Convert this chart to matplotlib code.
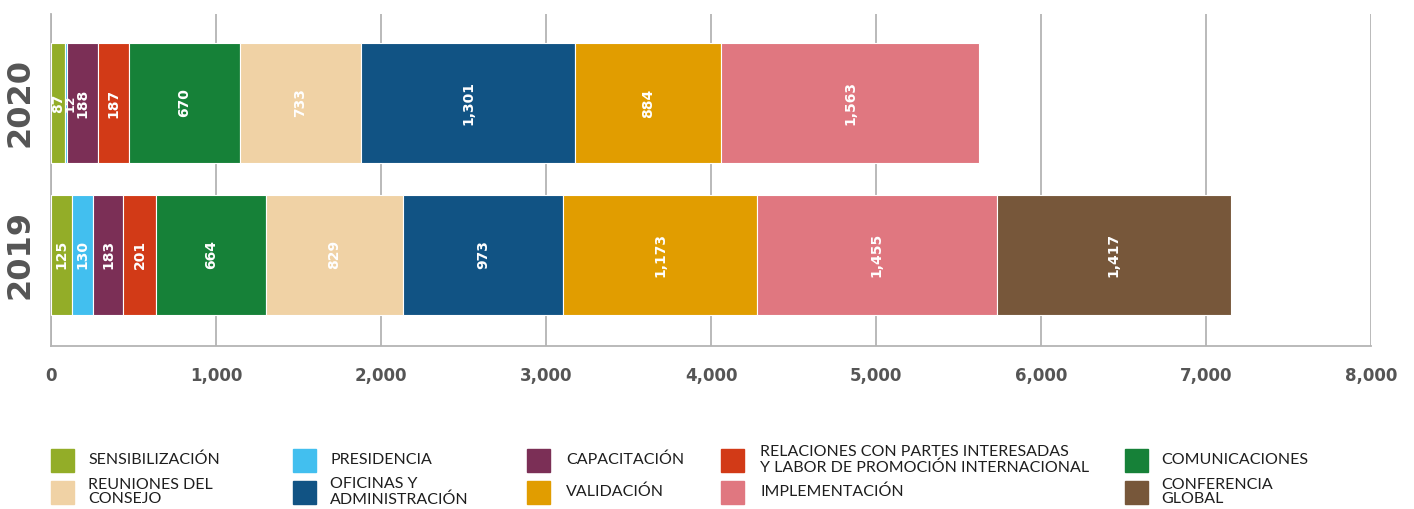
import matplotlib
matplotlib.use("Agg")
import matplotlib.pyplot as plt
from matplotlib.patches import Rectangle

# data
years = ["2019", "2020"]
categories = [
    "SENSIBILIZACIÓN", "PRESIDENCIA", "CAPACITACIÓN",
    "RELACIONES CON PARTES INTERESADAS\nY LABOR DE PROMOCIÓN INTERNACIONAL",
    "COMUNICACIONES", "REUNIONES DEL\nCONSEJO", "OFICINAS Y\nADMINISTRACIÓN",
    "VALIDACIÓN", "IMPLEMENTACIÓN", "CONFERENCIA\nGLOBAL",
]
values_2019 = [125, 130, 183, 201, 664, 829, 973, 1173, 1455, 1417]
values_2020 = [87, 12, 188, 187, 670, 733, 1301, 884, 1563, 0]
colors = ["#93ad28", "#42bfef", "#7b2f56", "#d23a17", "#168138",
          "#f0d2a5", "#115384", "#e19d00", "#e07780", "#77573a"]
x_ticks = [0, 1000, 2000, 3000, 4000, 5000, 6000, 7000, 8000]

W, H = 1414, 509
fig = plt.figure(figsize=(W / 100, H / 100), dpi=100)
ax = fig.add_axes([51 / W, 1 - 346 / H, 1320 / W, 332 / H])

grey = "#b4b4b4"
bar_h = 0.79
for yi, vals in enumerate([values_2019, values_2020]):
    left = 0
    for v, c in zip(vals, colors):
        if v == 0:
            continue
        ax.barh(yi, v, left=left, height=bar_h, color=c,
                edgecolor="white", linewidth=0.8, zorder=3)
        # a very thin segment gets a smaller label nudged right of it
        if v >= 50:
            lx, fs = left + v / 2, 10
        else:
            lx, fs = left + v + 14, 9
        ax.text(lx, yi, f"{v:,}", rotation=90, ha="center",
                va="center", color="white", fontsize=fs, fontweight="bold",
                zorder=4)
        left += v

ax.set_xlim(0, 8000)
ax.set_ylim(-0.6, 1.586)
ax.set_xticks(x_ticks)
ax.set_xticklabels([f"{t:,}" for t in x_ticks], fontsize=12,
                   fontweight="bold", color="#555555")
ax.tick_params(axis="x", length=0, pad=15)
ax.set_yticks([])
ax.grid(axis="x", color=grey, linewidth=1.3, zorder=0)
for s in ["top", "right"]:
    ax.spines[s].set_visible(False)
for s in ["left", "bottom"]:
    ax.spines[s].set_color(grey)
    ax.spines[s].set_linewidth(1.3)

# year labels
for yi, yr in enumerate(years):
    ax.text(-31 / 1320, yi, yr, transform=ax.get_yaxis_transform(),
            rotation=90, ha="center", va="center", fontsize=23,
            fontweight="bold", color="#555555")

# legend, laid out by hand in two rows of five
patch_x = [51, 293, 527, 721, 1125]
text_x = [88, 330, 566, 760, 1161]
row_y = [460, 492]
for i, (lab, c) in enumerate(zip(categories, colors)):
    row, col = divmod(i, 5)
    yc = row_y[row]
    fig.add_artist(Rectangle((patch_x[col] / W, 1 - (yc + 11.5) / H),
                             23 / W, 23 / H, color=c,
                             transform=fig.transFigure))
    fig.text(text_x[col] / W, 1 - yc / H, lab, ha="left", va="center",
             fontsize=11.5, family="Lato", color="#1e1e1e", linespacing=1.05)

fig.savefig("out.png", dpi=100)
